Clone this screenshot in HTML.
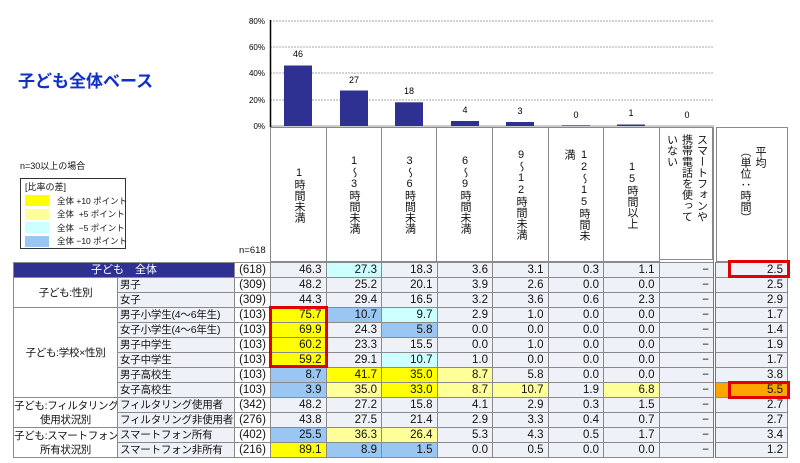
<!DOCTYPE html>
<html><head><meta charset="utf-8"><style>
body{margin:0;width:800px;height:463px;background:#fff;position:relative;overflow:hidden;font-family:"Liberation Sans","Noto Sans CJK JP",sans-serif;color:#111}
.abs{position:absolute}
table{border-collapse:collapse;table-layout:fixed;position:absolute;left:13px;top:262px;width:774px;font-size:11.5px}
td{border:1px solid #8a8a8a;height:14px;padding:0 3px;background:#eef1f7;line-height:14px;white-space:nowrap;overflow:hidden}
td.n{text-align:right;padding-right:4px}
td.c{text-align:center;background:#fff}
td.k{text-align:center;background:#fff;font-size:10.5px;padding:0;letter-spacing:-0.3px}
td.t{font-size:10.5px;padding:0 2px;letter-spacing:-0.2px}
td.av{border-left:3px double #777}
.Y{background:#ffff00}.L{background:#ffff99}.C{background:#ccffff}.B{background:#99c6f2}.O{background:#ffa500}
.hd{position:absolute;top:127px;height:133px;border:1px solid #8a8a8a;border-left:none;display:flex;justify-content:center;align-items:center;font-size:11px;line-height:14px}
.v{writing-mode:vertical-rl;text-orientation:upright;white-space:nowrap;line-height:15px}
.red{position:absolute;border:3px solid #e00000;box-sizing:border-box}
.lg{display:flex;align-items:center;font-size:8.5px;height:13.5px;white-space:nowrap}
.lg span{display:inline-block;width:24px;height:11px;margin-right:8px;flex:none}
</style></head><body>
<div class="abs" style="left:18px;top:67px;font-size:17px;font-weight:bold;color:#1030c8">子ども全体ベース</div>
<div class="abs" style="left:20px;top:159px;font-size:9px">n=30以上の場合</div>
<div class="abs" style="left:20px;top:178px;width:106px;height:71px;border:1px solid #333;padding:2px 0 0 4px;box-sizing:border-box;font-size:9px">
<div style="line-height:12px;margin-bottom:1px">[比率の差]</div>
<div class="lg"><span style="background:#ffff00"></span>全体 +10 ポイント</div>
<div class="lg"><span style="background:#ffff99"></span>全体 &nbsp;+5 ポイント</div>
<div class="lg"><span style="background:#ccffff"></span>全体 &nbsp;−5 ポイント</div>
<div class="lg"><span style="background:#99c6f2"></span>全体 −10 ポイント</div>
</div>
<div class="abs" style="left:239px;top:245px;font-size:9.5px">n=618</div>
<svg class="abs" style="left:0;top:0" width="800" height="130">
<g font-size="8" font-family="Liberation Sans" text-anchor="end">
<text x="265" y="24">80%</text><text x="265" y="50">60%</text><text x="265" y="76">40%</text><text x="265" y="103">20%</text><text x="265" y="129">0%</text></g>
<g stroke="#aaa" stroke-dasharray="2,1"><line x1="270" x2="714" y1="21" y2="21"/><line x1="270" x2="714" y1="47" y2="47"/><line x1="270" x2="714" y1="73" y2="73"/><line x1="270" x2="714" y1="100" y2="100"/></g>
<line x1="270" x2="714" y1="126" y2="126" stroke="#999"/>
<line x1="270.5" x2="270.5" y1="20" y2="127" stroke="#000" stroke-width="1.5"/>
<g fill="#2e3192">
<rect x="284" y="65.5" width="28" height="60.5"/><rect x="340" y="90.5" width="28" height="35.5"/><rect x="395" y="102.3" width="28" height="23.7"/><rect x="451" y="121" width="28" height="5"/><rect x="506" y="122" width="28" height="4"/><rect x="562" y="125.3" width="28" height="0.7"/><rect x="617" y="124.5" width="28" height="1.5"/></g>
<g font-size="9" font-family="Liberation Sans" text-anchor="middle">
<text x="298" y="57">46</text><text x="354" y="83">27</text><text x="409" y="94">18</text><text x="465" y="113">4</text><text x="520" y="114">3</text><text x="576" y="118">0</text><text x="631" y="116">1</text><text x="687" y="118">0</text></g>
</svg>
<div class="hd" style="left:270px;width:55px;border-left:1px solid #8a8a8a"><div class="v">1時間未満</div></div>
<div class="hd" style="left:326px;width:55px"><div class="v">1〜3時間未満</div></div>
<div class="hd" style="left:382px;width:54px"><div class="v">3〜6時間未満</div></div>
<div class="hd" style="left:437px;width:55px"><div class="v">6〜9時間未満</div></div>
<div class="hd" style="left:493px;width:55px"><div class="v">9〜12時間未満</div></div>
<div class="hd" style="left:549px;width:54px"><div class="v">12〜15時間未<br>満</div></div>
<div class="hd" style="left:604px;width:55px"><div class="v">15時間以上</div></div>
<div class="hd" style="left:660px;width:53px;align-items:flex-start;padding-top:6px;box-sizing:border-box"><div class="v">スマートフォンや<br>携帯電話を使って<br>いない</div></div>
<div class="hd" style="left:716px;width:70px;border-left:1px solid #8a8a8a"><div class="v" style="margin-top:-20px">平均<br>（単位：時間）</div></div>
<div class="abs" style="left:713px;top:127px;width:2px;height:331px;border-left:1px solid #888;border-right:1px solid #888"></div>
<table>
<colgroup><col style="width:104px"><col style="width:117px"><col style="width:36px"><col span="8" style="width:55.5px"><col style="width:73px"></colgroup>
<tr><td colspan="2" style="background:#2e3192;color:#fff;text-align:center;font-size:11px">子ども　全体</td><td class="c">(618)</td><td class="n">46.3</td><td class="n C">27.3</td><td class="n">18.3</td><td class="n">3.6</td><td class="n">3.1</td><td class="n">0.3</td><td class="n">1.1</td><td class="n">−</td><td class="n av">2.5</td></tr>
<tr><td rowspan="2" class="k">子ども:性別</td><td class="t">男子</td><td class="c">(309)</td><td class="n">48.2</td><td class="n">25.2</td><td class="n">20.1</td><td class="n">3.9</td><td class="n">2.6</td><td class="n">0.0</td><td class="n">0.0</td><td class="n">−</td><td class="n av">2.5</td></tr>
<tr><td class="t">女子</td><td class="c">(309)</td><td class="n">44.3</td><td class="n">29.4</td><td class="n">16.5</td><td class="n">3.2</td><td class="n">3.6</td><td class="n">0.6</td><td class="n">2.3</td><td class="n">−</td><td class="n av">2.9</td></tr>
<tr><td rowspan="6" class="k">子ども:学校×性別</td><td class="t">男子小学生(4〜6年生)</td><td class="c">(103)</td><td class="n Y">75.7</td><td class="n B">10.7</td><td class="n C">9.7</td><td class="n">2.9</td><td class="n">1.0</td><td class="n">0.0</td><td class="n">0.0</td><td class="n">−</td><td class="n av">1.7</td></tr>
<tr><td class="t">女子小学生(4〜6年生)</td><td class="c">(103)</td><td class="n Y">69.9</td><td class="n">24.3</td><td class="n B">5.8</td><td class="n">0.0</td><td class="n">0.0</td><td class="n">0.0</td><td class="n">0.0</td><td class="n">−</td><td class="n av">1.4</td></tr>
<tr><td class="t">男子中学生</td><td class="c">(103)</td><td class="n Y">60.2</td><td class="n">23.3</td><td class="n">15.5</td><td class="n">0.0</td><td class="n">1.0</td><td class="n">0.0</td><td class="n">0.0</td><td class="n">−</td><td class="n av">1.9</td></tr>
<tr><td class="t">女子中学生</td><td class="c">(103)</td><td class="n Y">59.2</td><td class="n">29.1</td><td class="n C">10.7</td><td class="n">1.0</td><td class="n">0.0</td><td class="n">0.0</td><td class="n">0.0</td><td class="n">−</td><td class="n av">1.7</td></tr>
<tr><td class="t">男子高校生</td><td class="c">(103)</td><td class="n B">8.7</td><td class="n Y">41.7</td><td class="n Y">35.0</td><td class="n L">8.7</td><td class="n">5.8</td><td class="n">0.0</td><td class="n">0.0</td><td class="n">−</td><td class="n av">3.8</td></tr>
<tr><td class="t">女子高校生</td><td class="c">(103)</td><td class="n B">3.9</td><td class="n L">35.0</td><td class="n Y">33.0</td><td class="n L">8.7</td><td class="n L">10.7</td><td class="n">1.9</td><td class="n L">6.8</td><td class="n">−</td><td class="n av O">5.5</td></tr>
<tr><td rowspan="2" class="k">子ども:フィルタリング<br>使用状況別</td><td class="t">フィルタリング使用者</td><td class="c">(342)</td><td class="n">48.2</td><td class="n">27.2</td><td class="n">15.8</td><td class="n">4.1</td><td class="n">2.9</td><td class="n">0.3</td><td class="n">1.5</td><td class="n">−</td><td class="n av">2.7</td></tr>
<tr><td class="t">フィルタリング非使用者</td><td class="c">(276)</td><td class="n">43.8</td><td class="n">27.5</td><td class="n">21.4</td><td class="n">2.9</td><td class="n">3.3</td><td class="n">0.4</td><td class="n">0.7</td><td class="n">−</td><td class="n av">2.7</td></tr>
<tr><td rowspan="2" class="k">子ども:スマートフォン<br>所有状況別</td><td class="t">スマートフォン所有</td><td class="c">(402)</td><td class="n B">25.5</td><td class="n L">36.3</td><td class="n L">26.4</td><td class="n">5.3</td><td class="n">4.3</td><td class="n">0.5</td><td class="n">1.7</td><td class="n">−</td><td class="n av">3.4</td></tr>
<tr><td class="t">スマートフォン非所有</td><td class="c">(216)</td><td class="n Y">89.1</td><td class="n B">8.9</td><td class="n B">1.5</td><td class="n">0.0</td><td class="n">0.5</td><td class="n">0.0</td><td class="n">0.0</td><td class="n">−</td><td class="n av">1.2</td></tr>
</table>
<div class="red" style="left:269px;top:306px;width:59px;height:62px"></div>
<div class="red" style="left:728px;top:260px;width:62px;height:18px"></div>
<div class="red" style="left:728px;top:381px;width:62px;height:18px"></div>
</body></html>
